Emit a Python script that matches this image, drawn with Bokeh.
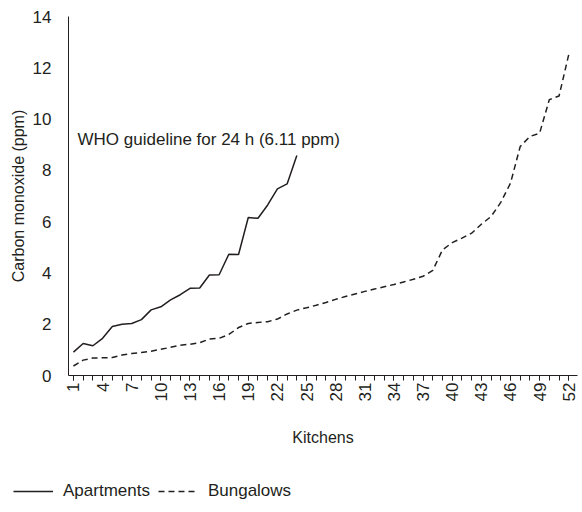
import math
from bokeh.plotting import figure
from bokeh.models import Range1d, FixedTicker, Label, Legend, LegendItem
from bokeh.embed import file_html
from bokeh.resources import INLINE

# ---- data ----
apartment_kitchens = list(range(1, 25))
apartments = [0.91, 1.25, 1.16, 1.45, 1.91, 2.00, 2.03, 2.18, 2.56, 2.68,
              2.95, 3.15, 3.40, 3.41, 3.92, 3.93, 4.73, 4.72, 6.16, 6.13,
              6.65, 7.28, 7.47, 8.58]

bungalow_kitchens = list(range(1, 53))
bungalows = [0.37, 0.60, 0.68, 0.69, 0.70, 0.80, 0.86, 0.90, 0.95, 1.02,
             1.10, 1.18, 1.22, 1.28, 1.42, 1.45, 1.60, 1.87, 2.03, 2.07,
             2.10, 2.20, 2.40, 2.55, 2.64, 2.74, 2.85, 2.97, 3.08, 3.18,
             3.28, 3.37, 3.46, 3.55, 3.65, 3.75, 3.87, 4.10, 4.90, 5.18,
             5.36, 5.55, 5.90, 6.20, 6.75, 7.50, 8.93, 9.32, 9.45, 10.76,
             10.90, 12.52]

series_names = ["Apartments", "Bungalows"]
x_tick_labels = [1, 4, 7, 10, 13, 16, 19, 22, 25, 28, 31, 34, 37, 40, 43, 46, 49, 52]
y_ticks = [0, 2, 4, 6, 8, 10, 12, 14]

annotation_text = "WHO guideline for 24 h (6.11 ppm)"
annotation_pos = (1.42, 9.2)

INK = "#231f20"
FONT = "Liberation Sans"
DASH = "6 4"

p = figure(width=580, height=455, output_backend="svg",
           toolbar_location=None,
           x_range=Range1d(0.49, 52.9), y_range=Range1d(0, 14),
           min_border_left=68, min_border_right=3, min_border_top=16,
           min_border_bottom=80)
p.outline_line_color = None
p.xgrid.visible = False
p.ygrid.visible = False

p.line(apartment_kitchens, apartments, line_color=INK, line_width=1.5)
p.line(bungalow_kitchens, bungalows, line_color=INK, line_width=1.5,
       line_dash=DASH)

# y axis
ya = p.yaxis[0]
ya.ticker = FixedTicker(ticks=y_ticks)
ya.axis_line_color = INK
ya.major_tick_out = 0
ya.major_tick_in = 0
ya.minor_tick_out = 0
ya.minor_tick_in = 0
ya.major_label_standoff = 17
ya.major_label_text_font = FONT
ya.major_label_text_font_size = "17px"
ya.major_label_text_color = INK
ya.axis_label = "Carbon monoxide (ppm)"
ya.axis_label_text_font = FONT
ya.axis_label_text_font_size = "16px"
ya.axis_label_text_font_style = "normal"
ya.axis_label_text_color = INK
ya.axis_label_standoff = 3

# x axis
xa = p.xaxis[0]
xa.ticker = FixedTicker(ticks=x_tick_labels, minor_ticks=bungalow_kitchens)
xa.axis_line_color = INK
xa.major_tick_out = 5
xa.major_tick_in = 0
xa.minor_tick_out = 5
xa.minor_tick_in = 0
xa.major_tick_line_color = INK
xa.minor_tick_line_color = INK
xa.major_label_orientation = math.pi / 2
xa.major_label_standoff = 2
xa.major_label_text_font = FONT
xa.major_label_text_font_size = "17px"
xa.major_label_text_color = INK
xa.axis_label = "Kitchens"
xa.axis_label_text_font = FONT
xa.axis_label_text_font_size = "16px"
xa.axis_label_text_font_style = "normal"
xa.axis_label_text_color = INK
xa.axis_label_standoff = 25

p.add_layout(Label(x=annotation_pos[0], y=annotation_pos[1], text=annotation_text,
                   text_font=FONT, text_font_size="17px", text_color=INK,
                   text_baseline="middle"))

# legend strip below the chart (separate root, so it is not frame-aligned)
lg = figure(width=580, height=46, output_backend="svg", toolbar_location=None,
            min_border=0, x_range=Range1d(-10, -9), y_range=Range1d(-10, -9))
lg.axis.visible = False
lg.grid.visible = False
lg.outline_line_color = None
la = lg.line(apartment_kitchens, apartments, line_color=INK, line_width=1.5)
lb = lg.line(bungalow_kitchens, bungalows, line_color=INK, line_width=1.5,
             line_dash=DASH)
legend = Legend(items=[LegendItem(label=series_names[0], renderers=[la]),
                       LegendItem(label=series_names[1], renderers=[lb])],
                orientation="horizontal", location=(13, 0),
                glyph_width=40, glyph_height=20, label_height=20,
                label_standoff=10, spacing=8, padding=0, margin=0,
                border_line_color=None, background_fill_alpha=0,
                label_text_font=FONT, label_text_font_size="17px",
                label_text_color=INK)
lg.add_layout(legend, "center")

open("out.html", "w").write(file_html([p, lg], INLINE))
